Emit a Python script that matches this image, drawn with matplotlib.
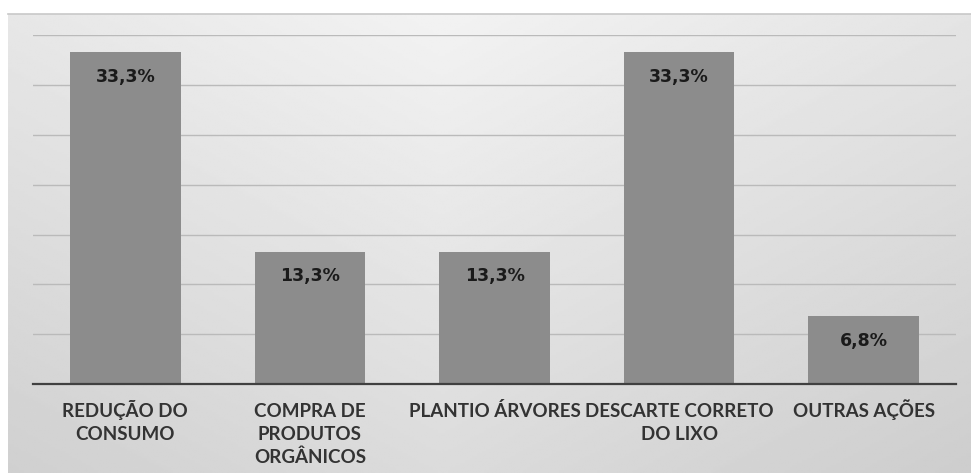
import numpy as np
import matplotlib.pyplot as plt

# data -------------------------
categorias = ["REDUÇÃO DO\nCONSUMO", "COMPRA DE\nPRODUTOS\nORGÂNICOS", "PLANTIO ÁRVORES",
              "DESCARTE CORRETO\nDO LIXO", "OUTRAS AÇÕES"]
valores = [33.3, 13.3, 13.3, 33.3, 6.8]
rotulos = ["33,3%", "13,3%", "13,3%", "33,3%", "6,8%"]

W, H = 971, 473
fig = plt.figure(figsize=(W / 100, H / 100), dpi=100)
fig.patch.set_facecolor('white')

# background panel with soft gradient
bg = fig.add_axes([8 / W, 0, 1 - 8 / W, (H - 14) / H])
yy, xx = np.mgrid[0:1:200j, 0:1:400j]
shade = 0.95 - 0.09 * yy - 0.05 * np.abs(xx - 0.45) * 2
bg.imshow(shade, cmap='gray', vmin=0, vmax=1, aspect='auto', extent=[0, 1, 1, 0])
bg.set_xticks([])
bg.set_yticks([])
for s in ['left', 'right', 'bottom']:
    bg.spines[s].set_visible(False)
bg.spines['top'].set_color('#c8c8c8')
bg.spines['top'].set_linewidth(1.2)

# chart ------------------------
ax = fig.add_axes([33 / W, 89 / H, 923 / W, (384 - 35.5) / H])
ax.patch.set_alpha(0)
x = np.arange(len(valores))
bars = ax.bar(x, valores, width=0.6, color='#8c8c8c', zorder=3)
ax.set_xlim(-0.5, len(valores) - 0.5)
ax.set_ylim(0, 35)
ax.set_yticks(np.arange(0, 36, 5))
ax.yaxis.grid(True, color='#bababa', linewidth=1.0, zorder=0)
ax.tick_params(axis='y', left=False, labelleft=False)
ax.set_xticks([])
for s in ['left', 'right', 'top']:
    ax.spines[s].set_visible(False)
ax.spines['bottom'].set_color('#404040')
ax.spines['bottom'].set_linewidth(1.6)
ax.spines['bottom'].set_zorder(4)

# category labels, one line at a time so first lines share a baseline
for xi, c in zip(x, categorias):
    for k, linha in enumerate(c.split('\n')):
        ax.annotate(linha, (xi, 0), xytext=(0, -24 - 16.6 * k), textcoords='offset points',
                    ha='center', va='baseline',
                    fontfamily='Lato', fontweight='bold', fontsize=13.5,
                    color='#333333', annotation_clip=False)

for b, t in zip(bars, rotulos):
    ax.annotate(t, (b.get_x() + b.get_width() / 2, b.get_height()),
                xytext=(0, -17.5), textcoords='offset points', ha='center', va='center',
                fontsize=12.5, fontweight='bold', color='#1a1a1a', zorder=5)

fig.savefig('out.png', dpi=100)
